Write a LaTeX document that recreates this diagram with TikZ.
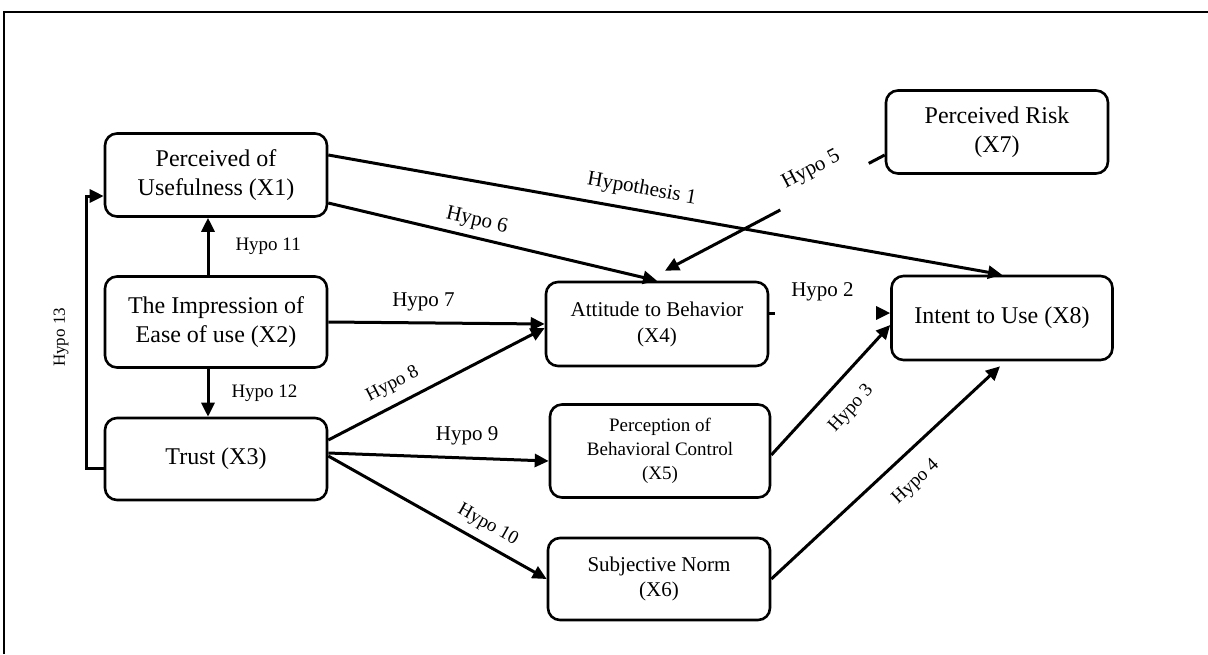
\documentclass[tikz,border=0pt]{standalone}
\usepackage{fontspec}
\setmainfont{Liberation Serif}
\usetikzlibrary{arrows.meta,calc}

\tikzset{
  box/.style={draw, line width=1.3pt, rounded corners=6pt, align=center,
    inner sep=0pt, minimum width=111pt, font=\fontsize{12}{14.5}\selectfont},
  arr/.style={line width=1.5pt, -{Triangle[length=7pt,width=6.5pt]}},
  lbl/.style={font=\fontsize{10.5}{12}\selectfont, inner sep=2pt},
  smlbl/.style={font=\fontsize{9.5}{11}\selectfont, inner sep=2pt}
}

\begin{document}
\begin{tikzpicture}[x=0.5pt,y=-0.5pt]
    \useasboundingbox (0,0) rectangle (1208,654);
    % outer frame
    \draw [line width=1pt] (4,654) -- (4,12) -- (1208,12);
    % constructs
    \node [box, minimum height=41.5pt] (x1) at (216,175) {Perceived of\\Usefulness (X1)};
    \node [box, minimum height=45.5pt] (x2) at (216,322) {The Impression of\\Ease of use (X2)};
    \node [box, minimum height=41pt] (x3) at (216,459) {Trust (X3)};
    \node [box, minimum height=42pt, font=\fontsize{10.5}{13}\selectfont] (x4) at (657,324) {Attitude to Behavior\\(X4)};
    \node [box, minimum height=46.5pt, minimum width=110pt, font=\fontsize{9.5}{12}\selectfont] (x5) at (660,451) {Perception of\\Behavioral Control\\(X5)};
    \node [box, minimum height=41pt, font=\fontsize{10.5}{12.5}\selectfont] (x6) at (659,579) {Subjective Norm\\(X6)};
    \node [box, minimum height=41.5pt] (x7) at (997,132) {Perceived Risk\\(X7)};
    \node [box, minimum height=42pt, minimum width=110.5pt] (x8) at (1002,318) {Intent to Use (X8)};
    % hypotheses
    \draw [arr] ($(x1.east)+(0,-20)$) -- node [lbl, sloped, above=3pt, pos=.46] {Hypothesis 1} (x8.north);
    \draw [arr] ($(x1.east)+(0,28)$) -- node [lbl, sloped, above=1pt, pos=.44] {Hypo 6} (x4.north);
    \draw [arr, dash pattern=on 9pt off 50pt on 200pt] ($(x7.west)+(0,23)$) -- node [lbl, sloped, above=3pt, pos=.29] {Hypo 5} ($(x4.north)+(8,-10)$);
    \draw [arr] (x2.east) -- node [lbl, above=3pt, pos=.44] {Hypo 7} (x4.west);
    \draw [arr] ($(x3.east)+(0,-19)$) -- node [lbl, sloped, above=3pt, pos=.34, font=\fontsize{9.5}{11}\selectfont] {Hypo 8} ($(x4.west)+(0,4)$);
    \draw [arr] ($(x3.east)+(0,-6)$) -- node [lbl, above=4pt, pos=.63] {Hypo 9} ($(x5.west)+(0,10)$);
    \draw [arr] ($(x3.east)+(0,-3)$) -- node [lbl, sloped, above=2pt, pos=.69, font=\fontsize{9.5}{11}\selectfont] {Hypo 10} (x6.west);
    \draw [arr, dash pattern=on 3pt off 80pt] ($(x4.east)+(0,-11)$) -- node [lbl, above=3pt, pos=.44] {Hypo 2} ($(x8.west)+(0,-5)$);
    \draw [arr] ($(x5.east)+(0,4)$) -- node [smlbl, sloped, below=7pt, pos=.5] {Hypo 3} ($(x8.west)+(0,7)$);
    \draw [arr] (x6.east) -- node [smlbl, sloped, below=7pt, pos=.55] {Hypo 4} ($(x8.south)+(-2,5)$);
    \draw [arr] ($(x2.north)+(-8,0)$) -- node [smlbl, right=11pt] {Hypo 11} ($(x1.south)+(-8,0)$);
    \draw [arr] ($(x2.south)+(-8,0)$) -- node [smlbl, right=9pt] {Hypo 12} ($(x3.north)+(-8,0)$);
    \draw [arr] ($(x3.west)+(0,9)$) -- ++(-17,0) |- node [pos=.24, sloped, above=5pt, font=\fontsize{8.5}{10}\selectfont] {Hypo 13} ($(x1.west)+(0,21)$);
\end{tikzpicture}
\end{document}
